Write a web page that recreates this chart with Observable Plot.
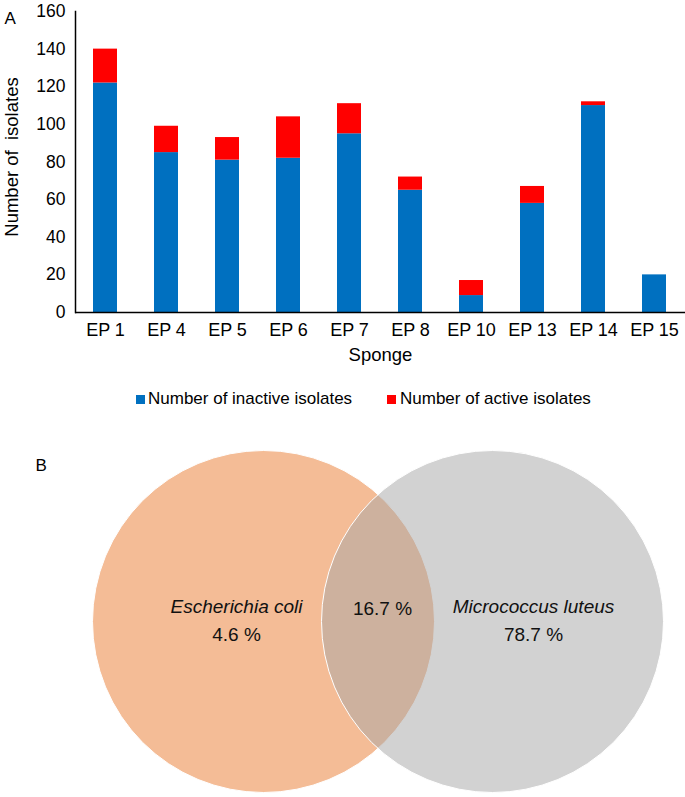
<!DOCTYPE html>
<html>
<head>
<meta charset="utf-8">
<script src="https://cdn.jsdelivr.net/npm/d3@7"></script>
<script src="https://cdn.jsdelivr.net/npm/@observablehq/plot@0.6"></script>
<style>
  html, body { margin: 0; padding: 0; background: #fff; }
  body { width: 685px; font-family: "Liberation Sans", Arial, sans-serif; }
  svg text { white-space: pre; }
  #legend { position: relative; width: 685px; height: 52px; font-size: 17px; color: #000; }
  #legend .sw { position: absolute; width: 9px; height: 9px; top: 17px; }
  #legend .lb { position: absolute; top: 11px; line-height: 20px; white-space: nowrap; }
</style>
</head>
<body>
<div id="chartA"></div>
<div id="legend"></div>
<div id="chartB"></div>
<script>
// ---- Panel A data ----
const sponges = ["EP 1", "EP 4", "EP 5", "EP 6", "EP 7", "EP 8", "EP 10", "EP 13", "EP 14", "EP 15"];
const inactiveIsolates = [122, 85, 81, 82, 95, 65, 9, 58, 110, 20];
const activeIsolates = [18, 14, 12, 22, 16, 7, 8, 9, 2, 0];
const seriesNames = ["Number of inactive isolates", "Number of active isolates"];
const yTicks = [0, 20, 40, 60, 80, 100, 120, 140, 160];

// ---- Panel B data ----
const vennSets = ["Escherichia coli", "Micrococcus luteus"];
const vennOnlyPct = [4.6, 78.7];
const vennSharedPct = 16.7;

// ---- styles ----
const seriesColors = ["#0070C0", "#FF0000"];
const font = "'Liberation Sans', Arial, sans-serif";

const rows = [];
sponges.forEach((s, i) => {
  rows.push({sponge: s, series: seriesNames[0], value: inactiveIsolates[i]});
  rows.push({sponge: s, series: seriesNames[1], value: activeIsolates[i]});
});

const chartA = Plot.plot({
  width: 685,
  height: 378,
  marginLeft: 75,
  marginRight: 0,
  marginTop: 11,
  marginBottom: 66,
  style: {fontFamily: font, fontSize: "17px", color: "#000", background: "#fff"},
  x: {domain: sponges, paddingInner: 0.6, paddingOuter: 0.3, label: null},
  y: {domain: [0, 160], label: null},
  color: {domain: seriesNames, range: seriesColors},
  marks: [
    Plot.barY(rows, {x: "sponge", y: "value", fill: "series", order: null}),
    Plot.ruleY([0], {stroke: "#000", strokeWidth: 1.5}),
    Plot.frame({anchor: "left", stroke: "#000", strokeWidth: 1.5}),
    Plot.axisX({tickSize: 0, tickPadding: 11, label: null, fontSize: 18}),
    Plot.axisY({ticks: yTicks, tickSize: 0, tickPadding: 10, label: null, fontSize: 17.5}),
    Plot.text(["Sponge"], {frameAnchor: "bottom", dy: 48, fontSize: 18.5}),
    Plot.text(["Number of  isolates"], {frameAnchor: "left", textAnchor: "middle", rotate: -90, dx: -63, dy: -5, fontSize: 18.5}),
    Plot.text(["A"], {frameAnchor: "top-left", textAnchor: "start", dx: -71, dy: 0, fontSize: 17})
  ]
});
document.getElementById("chartA").appendChild(chartA);

// legend
const legend = document.getElementById("legend");
const legendX = [[136, 148], [387, 400]];
seriesNames.forEach((name, i) => {
  const sw = document.createElement("div");
  sw.className = "sw";
  sw.style.left = legendX[i][0] + "px";
  sw.style.background = seriesColors[i];
  legend.appendChild(sw);
  const lb = document.createElement("div");
  lb.className = "lb";
  lb.style.left = legendX[i][1] + "px";
  lb.textContent = name;
  legend.appendChild(lb);
});

// ---- Panel B layout ----
const R = 171;
const centers = [{cx: 263, cy: 191}, {cx: 492, cy: 191}];
const vennFill = ["#F4BC96", "#A5A5A5"];
const vennOpacity = [1, 0.5];
const circles = vennSets.map((name, i) => ({name, ...centers[i], fill: vennFill[i], op: vennOpacity[i]}));
const nameLabels = vennSets.map((name, i) => ({text: name, x: [236, 533][i], y: 176}));
const pctLabels = vennOnlyPct.map((p, i) => ({text: p.toFixed(1) + " %", x: [236, 533][i], y: 204}))
  .concat([{text: vennSharedPct.toFixed(1) + " %", x: 382, y: 178}]);

const chartB = Plot.plot({
  width: 685,
  height: 367,
  margin: 0,
  style: {fontFamily: font, fontSize: "18px", color: "#000", background: "#fff"},
  x: {type: "identity", axis: null},
  y: {type: "identity", axis: null},
  marks: [
    Plot.dot(circles, {x: "cx", y: "cy", r: R, fill: "fill", fillOpacity: "op", stroke: "#fff", strokeWidth: 1}),
    Plot.text(nameLabels, {x: "x", y: "y", text: "text", fontStyle: "italic", fontSize: 19, fill: "#111"}),
    Plot.text(pctLabels, {x: "x", y: "y", text: "text", fontSize: 19, fill: "#111"}),
    Plot.text(["B"], {frameAnchor: "top-left", textAnchor: "start", dx: 35, dy: 28, fontSize: 17})
  ]
});
document.getElementById("chartB").appendChild(chartB);
</script>
</body>
</html>
